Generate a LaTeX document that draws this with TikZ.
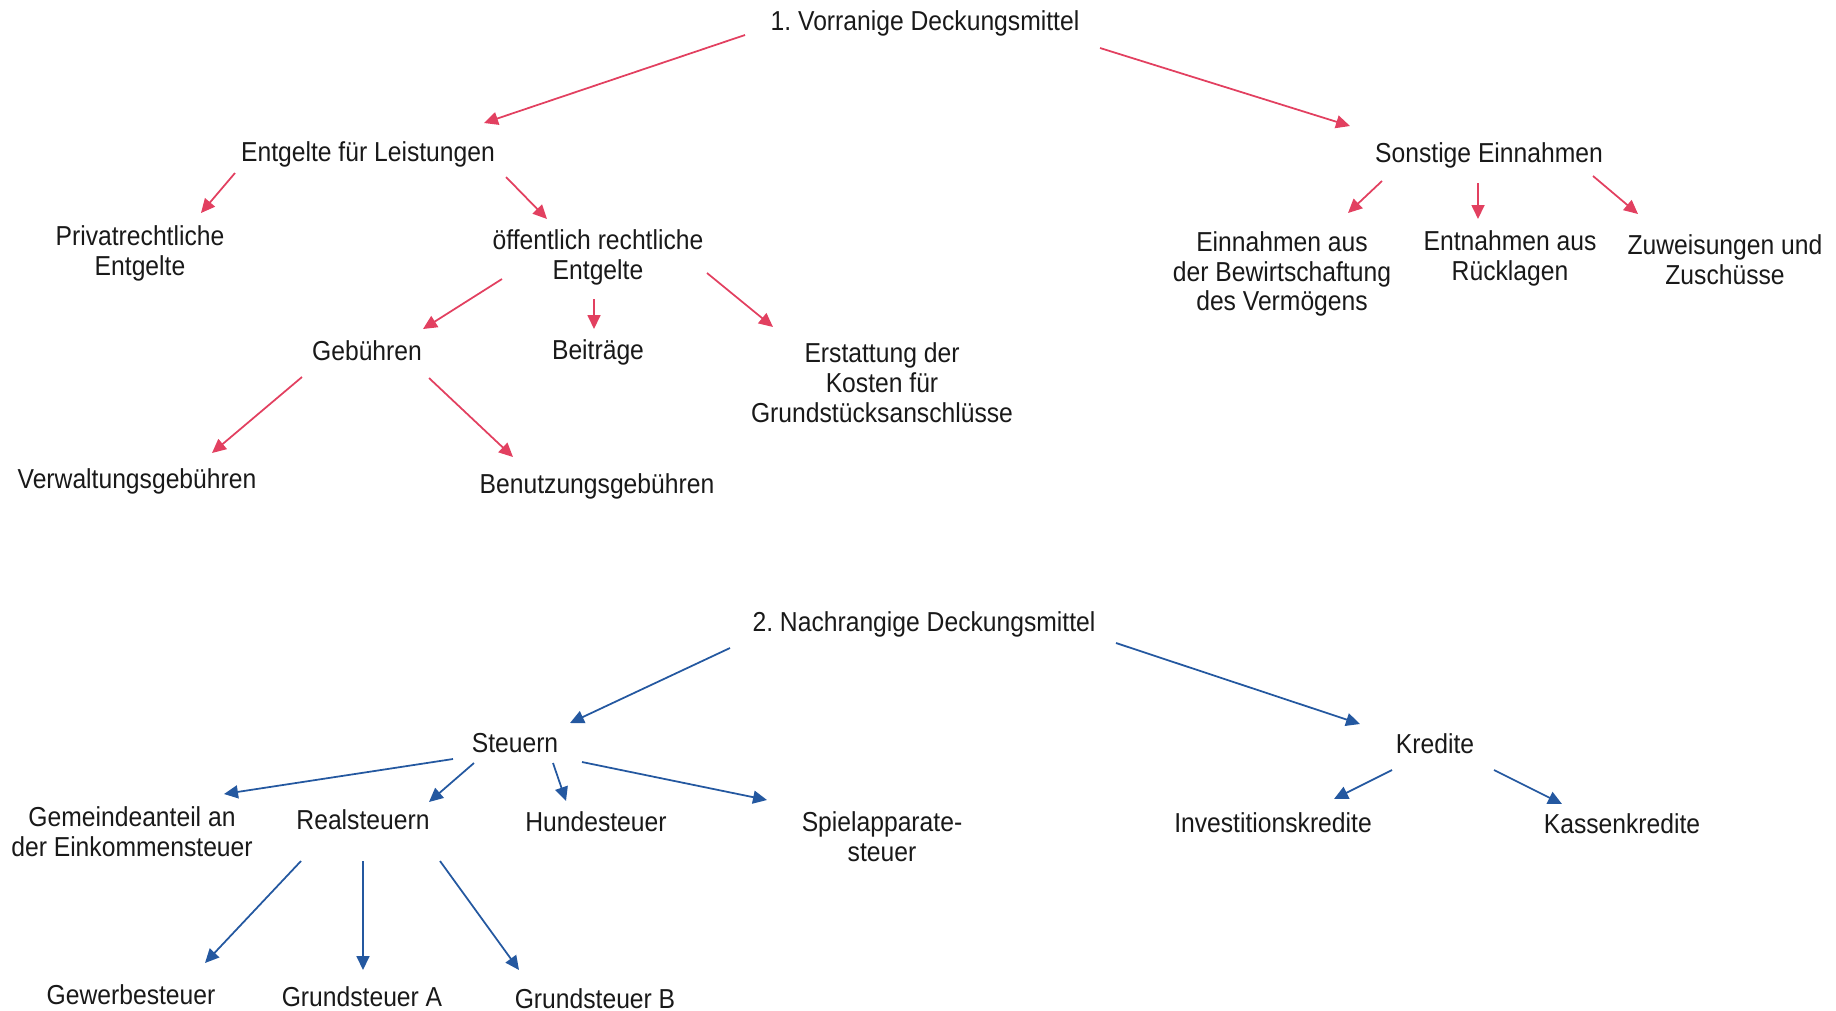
\documentclass[tikz,border=0pt]{standalone}
\usepackage{fontspec}
\setmainfont{Liberation Sans}[FakeStretch=0.9]
\usepackage{xcolor}
\usepackage{tikz}
\usetikzlibrary{arrows.meta,calc}
\definecolor{vorrot}{RGB}{226,64,96}
\definecolor{nachblau}{RGB}{36,88,160}
\frenchspacing

\begin{document}
\begin{tikzpicture}[
		txt/.style={font=\fontsize{7.8}{8.5}\selectfont, align=center, inner sep=1pt, text=black!90, yshift=-0.02cm},
		rarr/.style={draw=vorrot, line width=0.5pt, -{Triangle[length=1.4mm,width=1.3mm]}},
		barr/.style={draw=nachblau, line width=0.5pt, -{Triangle[length=1.4mm,width=1.3mm]}}]
		\useasboundingbox (0,0) rectangle (18.36,-10.10);
		
		\node[txt] (V) at (9.25,-0.21) {1. Vorranige Deckungsmittel};
		\node[txt] (E) at (3.68,-1.52) {Entgelte für Leistungen};
		\node[txt] (S) at (14.89,-1.53) {Sonstige Einnahmen};
		\node[txt] (P) at (1.40,-2.51) {Privatrechtliche\\Entgelte};
		\node[txt] (OE) at (5.98,-2.55) {öffentlich rechtliche\\Entgelte};
		\node[txt] (G) at (3.67,-3.49) {Gebühren};
		\node[txt] (B) at (5.98,-3.50) {Beiträge};
		\node[txt] (ER) at (8.82,-3.81) {Erstattung der\\Kosten für\\Grundstücksanschlüsse};
		\node[txt] (VW) at (1.37,-4.79) {Verwaltungsgebühren};
		\node[txt] (BN) at (5.97,-4.84) {Benutzungsgebühren};
		\node[txt] (EA) at (12.82,-2.72) {Einnahmen aus\\der Bewirtschaftung\\des Vermögens};
		\node[txt] (EN) at (15.10,-2.56) {Entnahmen aus\\Rücklagen};
		\node[txt] (ZW) at (17.25,-2.58) {Zuweisungen und\\Zuschüsse};
		
		\node[txt] (N) at (9.24,-6.22) {2. Nachrangige Deckungsmittel};
		\node[txt] (ST) at (5.15,-7.41) {Steuern};
		\node[txt] (KR) at (14.35,-7.42) {Kredite};
		\node[txt] (GA) at (1.32,-8.30) {Gemeindeanteil an\\der Einkommensteuer};
		\node[txt] (RS) at (3.63,-8.18) {Realsteuern};
		\node[txt] (HS) at (5.96,-8.20) {Hundesteuer};
		\node[txt] (SP) at (8.82,-8.35) {Spielapparate-\\steuer};
		\node[txt] (IK) at (12.73,-8.21) {Investitionskredite};
		\node[txt] (KK) at (16.22,-8.22) {Kassenkredite};
		\node[txt] (GW) at (1.31,-9.93) {Gewerbesteuer};
		\node[txt] (GSA) at (3.62,-9.95) {Grundsteuer A};
		\node[txt] (GSB) at (5.95,-9.97) {Grundsteuer B};
		
		\draw[rarr] ($(V)+(-1.80,-0.12)$) -- ($(E)+(1.16,0.31)$);
		\draw[rarr] ($(V)+(1.75,-0.25)$) -- ($(S)+(-1.39,0.29)$);
		\draw[rarr] ($(E)+(-1.33,-0.19)$) -- ($(P)+(0.61,0.40)$);
		\draw[rarr] ($(E)+(1.38,-0.23)$) -- ($(OE)+(-0.51,0.38)$);
		\draw[rarr] ($(OE)+(-0.96,-0.22)$) -- ($(G)+(0.56,0.22)$);
		\draw[rarr] ($(OE)+(-0.04,-0.42)$) -- ($(B)+(-0.04,0.23)$);
		\draw[rarr] ($(OE)+(1.09,-0.16)$) -- ($(ER)+(-1.09,0.56)$);
		\draw[rarr] ($(G)+(-0.65,-0.26)$) -- ($(VW)+(0.75,0.28)$);
		\draw[rarr] ($(G)+(0.62,-0.27)$) -- ($(BN)+(-0.84,0.29)$);
		\draw[rarr] ($(S)+(-1.07,-0.26)$) -- ($(EA)+(0.66,0.61)$);
		\draw[rarr] ($(S)+(-0.11,-0.28)$) -- ($(EN)+(-0.32,0.39)$);
		\draw[rarr] ($(S)+(1.04,-0.21)$) -- ($(ZW)+(-0.87,0.46)$);
		
		\draw[barr] ($(N)+(-1.94,-0.24)$) -- ($(ST)+(0.55,0.20)$);
		\draw[barr] ($(N)+(1.92,-0.19)$) -- ($(KR)+(-0.75,0.20)$);
		\draw[barr] ($(ST)+(-0.62,-0.16)$) -- ($(GA)+(0.92,0.38)$);
		\draw[barr] ($(ST)+(-0.41,-0.20)$) -- ($(RS)+(0.66,0.18)$);
		\draw[barr] ($(ST)+(0.38,-0.20)$) -- ($(HS)+(-0.30,0.21)$);
		\draw[barr] ($(ST)+(0.67,-0.19)$) -- ($(SP)+(-1.15,0.37)$);
		\draw[barr] ($(RS)+(-0.62,-0.41)$) -- ($(GW)+(0.74,0.32)$);
		\draw[barr] ($(RS)+(0,-0.41)$) -- ($(GSA)+(0.01,0.27)$);
		\draw[barr] ($(RS)+(0.77,-0.41)$) -- ($(GSB)+(-0.76,0.29)$);
		\draw[barr] ($(KR)+(-0.43,-0.26)$) -- ($(IK)+(0.61,0.24)$);
		\draw[barr] ($(KR)+(0.59,-0.26)$) -- ($(KK)+(-0.60,0.20)$);
	\end{tikzpicture}
\end{document}
